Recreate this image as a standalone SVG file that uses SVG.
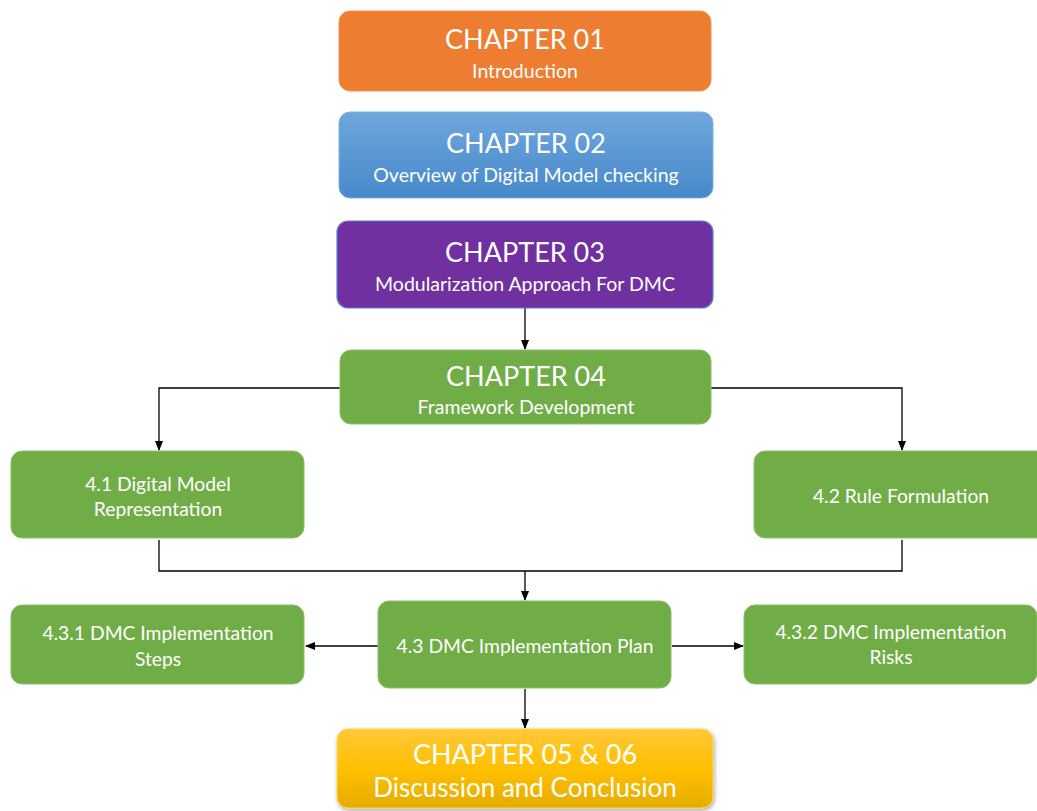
<svg xmlns="http://www.w3.org/2000/svg" width="1037" height="811" viewBox="0 0 1037 811">
  <style>
    .t { font-family: Lato, "Open Sans", "Liberation Sans", sans-serif; fill: #ffffff; text-anchor: middle; }
    .h { font-size: 27px; }
    .s { font-size: 19.5px; }
    .m { font-size: 19.3px; }
    .g { fill: #70AD47; stroke: #8CC06A; stroke-width: 1; }
    .c { fill: none; stroke: #000000; stroke-width: 1.3; }
  </style>
  <defs>
    <marker id="ah" markerWidth="10" markerHeight="10" refX="9" refY="5" orient="auto" markerUnits="userSpaceOnUse">
      <path d="M0,1 L10,5 L0,9 Z" fill="#000000"/>
    </marker>
    <linearGradient id="blue" x1="0" y1="0" x2="0" y2="1">
      <stop offset="0" stop-color="#6FA7DD"/>
      <stop offset="1" stop-color="#4689CA"/>
    </linearGradient>
    <linearGradient id="gold" x1="0" y1="0" x2="0" y2="1">
      <stop offset="0" stop-color="#FFC83A"/>
      <stop offset="0.5" stop-color="#FFC000"/>
      <stop offset="1" stop-color="#E5AC00"/>
    </linearGradient>
    <filter id="shadow" x="-5%" y="-10%" width="110%" height="130%">
      <feDropShadow dx="1" dy="2" stdDeviation="2" flood-color="#000000" flood-opacity="0.35"/>
    </filter>
  </defs>

  <!-- connectors -->
  <g id="connectors">
    <path class="c" d="M525,308 L525,349" marker-end="url(#ah)"/>
    <path class="c" d="M340,388 L159,388 L159,450" marker-end="url(#ah)"/>
    <path class="c" d="M711,388 L902,388 L902,450" marker-end="url(#ah)"/>
    <path class="c" d="M159,540 L159,571 L902,571 L902,540"/>
    <path class="c" d="M525,571 L525,600" marker-end="url(#ah)"/>
    <path class="c" d="M378,646 L306,646" marker-end="url(#ah)"/>
    <path class="c" d="M672,646 L743,646" marker-end="url(#ah)"/>
    <path class="c" d="M525,689 L525,728" marker-end="url(#ah)"/>
  </g>

  <g id="ch01">
    <rect x="339" y="11" width="372" height="80" rx="11" fill="#ED7D31" stroke="#F09456"/>
    <text class="t h" x="525" y="49">CHAPTER 01</text>
    <text class="t s" x="525" y="78">Introduction</text>
  </g>

  <g id="ch02">
    <rect x="339" y="112" width="374" height="86" rx="11" fill="url(#blue)" stroke="#7FB2E3"/>
    <text class="t h" x="526" y="153">CHAPTER 02</text>
    <text class="t s" x="526" y="182">Overview of Digital Model checking</text>
  </g>

  <g id="ch03">
    <rect x="337" y="221" width="376" height="87" rx="11" fill="#7030A0" stroke="#5B7FD0" stroke-width="1.2"/>
    <text class="t h" x="525" y="262">CHAPTER 03</text>
    <text class="t s" x="525" y="291">Modularization Approach For DMC</text>
  </g>

  <g id="ch04">
    <rect class="g" x="340" y="350" width="371" height="74" rx="11"/>
    <text class="t h" x="526" y="386">CHAPTER 04</text>
    <text class="t s" x="526" y="414">Framework Development</text>
  </g>

  <g id="s41">
    <rect class="g" x="11" y="451" width="293" height="87" rx="11"/>
    <text class="t m" x="158" y="491">4.1 Digital Model</text>
    <text class="t m" x="158" y="516">Representation</text>
  </g>

  <g id="s42">
    <rect class="g" x="754" y="451" width="295" height="87" rx="11"/>
    <text class="t m" x="901" y="503">4.2 Rule Formulation</text>
  </g>

  <g id="s43">
    <rect class="g" x="378" y="601" width="293" height="87" rx="11"/>
    <text class="t m" x="525" y="653">4.3 DMC Implementation Plan</text>
  </g>

  <g id="s431">
    <rect class="g" x="11" y="605" width="293" height="79" rx="11"/>
    <text class="t m" x="158" y="640">4.3.1 DMC Implementation</text>
    <text class="t m" x="158" y="666">Steps</text>
  </g>

  <g id="s432">
    <rect class="g" x="744" y="605" width="293" height="79" rx="11"/>
    <text class="t m" x="891" y="639">4.3.2 DMC Implementation</text>
    <text class="t m" x="891" y="664">Risks</text>
  </g>

  <g id="ch0506">
    <rect x="337" y="729" width="376" height="79" rx="11" fill="url(#gold)" stroke="#FFD456" filter="url(#shadow)"/>
    <text class="t h" x="525" y="764">CHAPTER 05 &amp; 06</text>
    <text class="t" x="525" y="797" font-size="26">Discussion and Conclusion</text>
  </g>
</svg>
